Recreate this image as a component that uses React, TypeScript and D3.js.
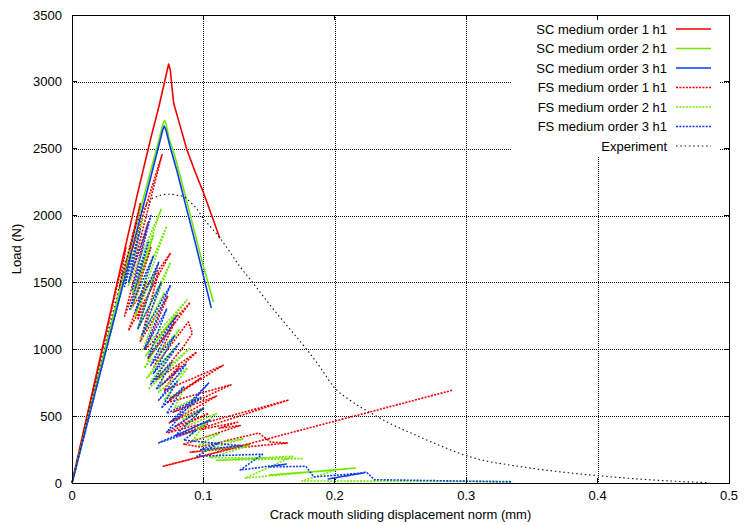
import * as d3 from 'd3';

// Load vs crack mouth sliding displacement, SC / FS solutions against the experiment

const X_TICKS = [0, 0.1, 0.2, 0.3, 0.4, 0.5];
const Y_TICKS = [0, 500, 1000, 1500, 2000, 2500, 3000, 3500];

type Pt = [number, number];

// SC medium order 1..3 (smooth curves)
const sc1: Pt[] = [
  [0, 0], [0.01, 440], [0.02, 875], [0.03, 1310], [0.04, 1740], [0.05, 2170], [0.06, 2580],
  [0.066, 2810], [0.07, 2980], [0.0725, 3090], [0.0735, 3133], [0.0748, 3089], [0.0762, 2950],
  [0.0774, 2840], [0.082, 2680], [0.0875, 2490], [0.094, 2320], [0.1002, 2167], [0.106, 2010],
  [0.1125, 1830],
];
const sc2: Pt[] = [
  [0, 0], [0.01, 400], [0.02, 800], [0.03, 1195], [0.04, 1585], [0.05, 1970], [0.06, 2340],
  [0.066, 2560], [0.069, 2680], [0.0705, 2710], [0.0715, 2690], [0.074, 2570], [0.0775, 2470],
  [0.082, 2310], [0.088, 2080], [0.094, 1850], [0.1, 1620], [0.1076, 1354],
];
const sc3: Pt[] = [
  [0, 0], [0.01, 385], [0.02, 770], [0.03, 1150], [0.04, 1530], [0.05, 1910], [0.06, 2290],
  [0.066, 2520], [0.069, 2640], [0.0702, 2670], [0.0715, 2640], [0.0745, 2520], [0.08, 2330],
  [0.088, 2020], [0.094, 1790], [0.0995, 1570], [0.106, 1310],
];

// FS medium order 1..3 (saw-tooth solutions)
const fs1: Pt[] = [
  [0, 0], [0.041, 1760],
  [0.036, 1450], [0.052, 2090], [0.04, 1560], [0.0685, 2455], [0.044, 1520], [0.058, 1950],
  [0.04, 1250], [0.06, 1760], [0.046, 1320], [0.075, 1720], [0.043, 1140], [0.056, 1500],
  [0.05, 1220], [0.066, 1580], [0.052, 1060], [0.073, 1400], [0.056, 1000], [0.09, 1350],
  [0.058, 930], [0.078, 1200], [0.062, 860], [0.0885, 1205], [0.0916, 1120], [0.0847, 1017],
  [0.064, 770], [0.095, 980], [0.068, 730], [0.082, 880], [0.07, 690], [0.115, 880],
  [0.074, 630], [0.098, 785], [0.072, 600], [0.121, 735], [0.077, 530], [0.11, 650],
  [0.074, 450], [0.1, 560], [0.078, 420], [0.104, 520], [0.0725, 374], [0.165, 621],
  [0.08, 350], [0.103, 440], [0.098, 400], [0.126, 455], [0.112, 410], [0.128, 430],
  [0.085, 290], [0.0977, 269], [0.142, 374], [0.151, 307], [0.164, 299], [0.09, 230],
  [0.135, 290], [0.0695, 125], [0.29, 695],
];
const fs2: Pt[] = [
  [0, 0], [0.044, 1740],
  [0.04, 1500], [0.054, 1980], [0.043, 1480], [0.068, 2050], [0.046, 1420], [0.062, 1850],
  [0.045, 1300], [0.072, 1920], [0.048, 1250], [0.064, 1600], [0.05, 1150], [0.075, 1650],
  [0.052, 1080], [0.07, 1420], [0.054, 1000], [0.0875, 1370], [0.056, 950], [0.078, 1250],
  [0.055, 860], [0.082, 1150], [0.057, 785], [0.079, 1017], [0.06, 760], [0.09, 1010],
  [0.058, 700], [0.07, 820], [0.066, 680], [0.088, 860], [0.07, 620], [0.085, 700],
  [0.078, 560], [0.095, 640], [0.084, 470], [0.1, 560], [0.086, 420], [0.11, 520],
  [0.09, 360], [0.102, 450], [0.092, 320], [0.112, 370], [0.096, 280], [0.13, 330],
  [0.1, 240], [0.135, 280], [0.105, 190], [0.176, 183], [0.11, 170], [0.168, 200],
  [0.132, 37], [0.216, 112], [0.15, 60], [0.2, 95], [0.175, 15], [0.335, 12],
];
const fs3: Pt[] = [
  [0, 0], [0.045, 1720],
  [0.04, 1470], [0.052, 1900], [0.043, 1500], [0.06, 2000], [0.046, 1450], [0.058, 1800],
  [0.044, 1300], [0.062, 1700], [0.048, 1280], [0.066, 1650], [0.05, 1150], [0.068, 1500],
  [0.053, 1100], [0.075, 1480], [0.055, 1000], [0.072, 1300], [0.058, 940], [0.08, 1260],
  [0.06, 880], [0.078, 1100], [0.062, 820], [0.082, 1050], [0.06, 740], [0.076, 900],
  [0.064, 700], [0.087, 890], [0.066, 620], [0.08, 760], [0.068, 560], [0.085, 720],
  [0.072, 520], [0.098, 640], [0.075, 456], [0.104, 748], [0.072, 380], [0.1, 560],
  [0.078, 350], [0.105, 470], [0.066, 300], [0.095, 396], [0.085, 320], [0.13, 277],
  [0.098, 250], [0.112, 300], [0.095, 200], [0.145, 215], [0.128, 97], [0.163, 142],
  [0.15, 120], [0.178, 125], [0.184, 45], [0.222, 75], [0.195, 30], [0.224, 82],
  [0.23, 25], [0.335, 8],
];

// Experiment
const experiment: Pt[] = [
  [0, 0], [0.01, 415], [0.02, 830], [0.03, 1235], [0.04, 1620], [0.045, 1790], [0.0494, 1944],
  [0.055, 2060], [0.0595, 2116], [0.0646, 2142], [0.07, 2158], [0.0748, 2160], [0.08, 2152],
  [0.085, 2142], [0.09, 2100], [0.095, 2050], [0.099, 1992], [0.105, 1920], [0.112, 1840],
  [0.12, 1730], [0.128, 1616], [0.136, 1518], [0.15, 1340], [0.165, 1160], [0.179, 995],
  [0.19, 850], [0.199, 720], [0.21, 630], [0.22, 565], [0.2275, 523], [0.24, 455], [0.26, 365],
  [0.28, 280], [0.2985, 209], [0.315, 165], [0.333, 135], [0.35, 110], [0.37, 85], [0.4, 55],
  [0.42, 38], [0.45, 18], [0.47, 8], [0.485, 2],
];

const SERIES_NAMES = [
  'SC medium order 1 h1', 'SC medium order 2 h1', 'SC medium order 3 h1',
  'FS medium order 1 h1', 'FS medium order 2 h1', 'FS medium order 3 h1', 'Experiment',
];
const SERIES_DATA = [sc1, sc2, sc3, fs1, fs2, fs3, experiment];

const RED = '#f00000';
const GREEN = '#70e800';
const BLUE = '#0a3cf0';
const COLORS = [RED, GREEN, BLUE, RED, GREEN, BLUE, '#111'];
const DASHES = [undefined, undefined, undefined, '2,1.3', '2,1.3', '2,1.3', '1.5,2.8'];
const WIDTHS = [1.6, 1.6, 1.6, 1.6, 1.6, 1.6, 1.1];

const W = 750;
const H = 525;
const M = { left: 72, right: 729, top: 15, bottom: 483 };
const FONT = '"Liberation Sans", Arial, Helvetica, sans-serif';

export default function App() {
  const x = d3.scaleLinear().domain([0, 0.5]).range([M.left, M.right]);
  const y = d3.scaleLinear().domain([0, 3500]).range([M.bottom, M.top]);
  const line = d3.line<Pt>().x(d => x(d[0])).y(d => y(d[1]));
  const smooth = d3.line<Pt>().x(d => x(d[0])).y(d => y(d[1])).curve(d3.curveMonotoneX);

  // legend placement
  const legTextX = 667;
  const legSample = [676, 711];
  const legRow0 = 29;
  const legStep = 19.5;

  return (
    <div style={{ position: 'fixed', left: 0, top: 0 }}>
      <svg width={W} height={H} style={{ display: 'block', background: '#fff' }} fontFamily={FONT}>
        {/* grid */}
        <g stroke="#000" strokeWidth={1} strokeDasharray="1,1" shapeRendering="crispEdges">
          {X_TICKS.map(t => (
            <line key={'gx' + t} x1={Math.round(x(t)) + 0.5} x2={Math.round(x(t)) + 0.5} y1={M.top} y2={M.bottom} />
          ))}
          {Y_TICKS.map(t => (
            <line key={'gy' + t} x1={M.left} x2={M.right} y1={Math.round(y(t)) + 0.5} y2={Math.round(y(t)) + 0.5} />
          ))}
        </g>

        {/* curves */}
        {SERIES_DATA.map((d, i) => (
          <path
            key={SERIES_NAMES[i]}
            d={(i === 6 ? smooth(d) : line(d)) || ''}
            fill="none"
            stroke={COLORS[i]}
            strokeWidth={WIDTHS[i]}
            strokeDasharray={DASHES[i]}
            strokeLinejoin="round"
          />
        ))}

        {/* key box */}
        <rect x={511} y={M.top + 1} width={209} height={141} fill="#fff" />
        {SERIES_NAMES.map((name, i) => {
          const yy = legRow0 + i * legStep;
          return (
            <g key={'leg' + i}>
              <text x={legTextX} y={yy} dy="0.35em" textAnchor="end" fontSize={13} fill="#000">
                {name}
              </text>
              <line
                x1={legSample[0]}
                x2={legSample[1]}
                y1={yy}
                y2={yy}
                stroke={COLORS[i]}
                strokeWidth={WIDTHS[i]}
                strokeDasharray={DASHES[i]}
              />
            </g>
          );
        })}

        {/* border and mirrored ticks */}
        <rect
          x={M.left + 0.5}
          y={M.top + 0.5}
          width={M.right - M.left}
          height={M.bottom - M.top}
          fill="none"
          stroke="#000"
          strokeWidth={1}
          shapeRendering="crispEdges"
        />
        <g stroke="#000" strokeWidth={1} shapeRendering="crispEdges">
          {X_TICKS.map(t => (
            <g key={'tx' + t}>
              <line x1={x(t)} x2={x(t)} y1={M.bottom} y2={M.bottom - 5} />
              <line x1={x(t)} x2={x(t)} y1={M.top} y2={M.top + 5} />
            </g>
          ))}
          {Y_TICKS.map(t => (
            <g key={'ty' + t}>
              <line x1={M.left} x2={M.left + 5} y1={y(t)} y2={y(t)} />
              <line x1={M.right} x2={M.right - 5} y1={y(t)} y2={y(t)} />
            </g>
          ))}
        </g>

        {/* tick labels */}
        <g fontSize={13} fill="#000">
          {X_TICKS.map(t => (
            <text key={'lx' + t} x={x(t)} y={M.bottom + 17} textAnchor="middle">
              {d3.format('~g')(t)}
            </text>
          ))}
          {Y_TICKS.map(t => (
            <text key={'ly' + t} x={M.left - 10} y={y(t)} dy="0.35em" textAnchor="end">
              {t}
            </text>
          ))}
        </g>

        {/* axis titles */}
        <text x={(M.left + M.right) / 2} y={519} textAnchor="middle" fontSize={13} fill="#000">
          Crack mouth sliding displacement norm (mm)
        </text>
        <text
          transform={`translate(21,${(M.top + M.bottom) / 2}) rotate(-90)`}
          textAnchor="middle"
          fontSize={13}
          fill="#000"
        >
          Load (N)
        </text>
      </svg>
    </div>
  );
}
